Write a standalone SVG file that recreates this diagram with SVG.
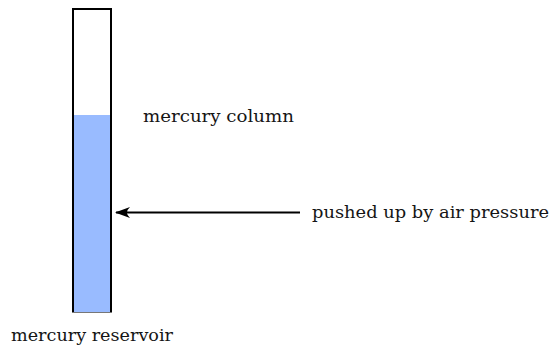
<svg xmlns="http://www.w3.org/2000/svg" width="553" height="353" viewBox="0 0 553 353">
  <defs>
    <style>
      .label { font-family: "DejaVu Serif", "Liberation Serif", serif; font-size: 16.5px; fill: #151515; }
      .tube { fill: none; stroke: #000; stroke-width: 2; }
      .mercury { fill: #99bbff; }
      .conn { stroke: #000; stroke-width: 2; fill: none; }
    </style>
    <marker id="arrowhead" viewBox="0 0 15 11" refX="14" refY="5.5" markerWidth="15" markerHeight="11" markerUnits="userSpaceOnUse" orient="auto">
      <path d="M15,5.5 L0,0 Q6,5.5 0,11 Z" fill="#000"/>
    </marker>
  </defs>

  <!-- glass tube: open sides and top, mercury in the lower part -->
  <g id="tube">
    <rect class="mercury" x="73" y="115" width="37.5" height="197"/>
    <path class="tube" d="M73,312 V9 H111 V312"/>
    <line x1="72" y1="312.5" x2="112" y2="312.5" stroke="#777" stroke-width="1"/>
  </g>

  <g id="column-label">
    <text class="label" x="143" y="122" textLength="151" lengthAdjust="spacingAndGlyphs">mercury column</text>
  </g>

  <g id="pressure-label">
    <text class="label" x="312" y="218" textLength="237" lengthAdjust="spacingAndGlyphs">pushed up by air pressure</text>
  </g>

  <g id="reservoir-label">
    <text class="label" x="11" y="341" textLength="162" lengthAdjust="spacingAndGlyphs">mercury reservoir</text>
  </g>

  <g id="connectors">
    <line class="conn" x1="300" y1="212.5" x2="116" y2="212.5" marker-end="url(#arrowhead)"/>
  </g>
</svg>
